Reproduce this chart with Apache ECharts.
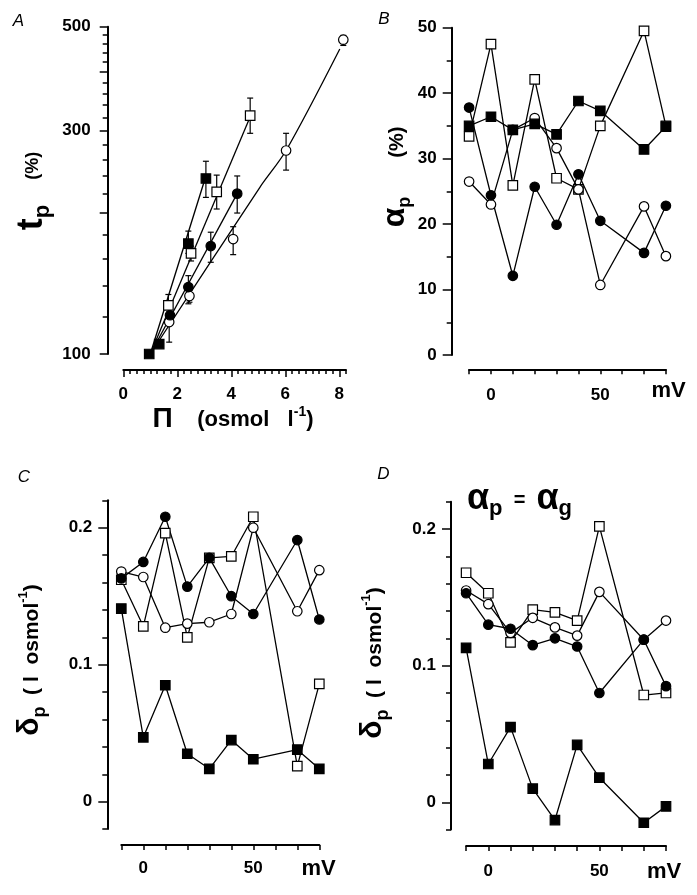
<!DOCTYPE html>
<html><head><meta charset="utf-8">
<script src="https://cdn.jsdelivr.net/npm/echarts@6/dist/echarts.min.js"></script>
<style>html,body{margin:0;padding:0;background:#fff;}#c{width:697px;height:895px;}</style>
</head><body><div id="c"></div>
<script>
// ---------- Panel A (semi-log, tp % vs osmolality) ----------
const aFilledSqX = [0.96, 1.33, 2.41, 3.06];
const aFilledSqY = [100, 105, 172, 237];
const aFilledSqLo = [null, null, 164, 216];
const aFilledSqHi = [null, null, 183, 258];

const aOpenSqX = [1.67, 2.51, 3.46, 4.70];
const aOpenSqY = [127, 164, 222, 323];
const aOpenSqLo = [120, 158, 204, 296];
const aOpenSqHi = [134, 170, 241, 352];

const aFilledCiX = [1.73, 2.41, 3.24, 4.22];
const aFilledCiY = [121, 139, 170, 220];
const aFilledCiLo = [117, 128, 157, 200];
const aFilledCiHi = [125, 147, 182, 240];

const aOpenCiX = [1.70, 2.45, 4.07, 6.03, 8.15];
const aOpenCiY = [117, 133, 176, 272, 469];
const aOpenCiLo = [106, 129, 163, 247, 456];
const aOpenCiHi = [123, 137, 187, 296, 479];

const aFitFilledSqX = [1.0, 3.06];
const aFitFilledSqY = [100, 240];
const aFitOpenSqX = [1.0, 4.72];
const aFitOpenSqY = [100, 323];
const aFitFilledCiX = [1.0, 4.22];
const aFitFilledCiY = [100, 220];
const aFitOpenCiX = [1.0, 5.06, 6.03, 8.02];
const aFitOpenCiY = [100, 227, 272, 448];

const aYTickLabels = [100, 300, 500];
const aYMajorTicks = [100, 200, 300, 400, 500];
const aYMinorTicks = [120, 140, 160, 180, 220, 240, 260, 280, 320, 340, 360, 380, 420, 440, 460, 480];
const aXTickLabels = [0, 2, 4, 6, 8];
const aXMinorTicks = [0, 0.25, 0.5, 0.75, 1, 1.25, 1.5, 1.75, 2, 2.25, 2.5, 2.75, 3, 3.25, 3.5, 3.75, 4, 4.25, 4.5, 4.75, 5, 5.25, 5.5, 5.75, 6, 6.25, 6.5, 6.75, 7, 7.25, 7.5, 7.75, 8, 8.25];

// ---------- Panels B, C, D (vs membrane potential, mV) ----------
const mvX = [-10, 0, 10, 20, 30, 40, 50, 70, 80];
const mvTicks = [-10, 0, 10, 20, 30, 40, 50, 60, 70, 80];
const mvTickLabels = [0, 50];

const bFilledSq = [35.0, 36.4, 34.4, 35.3, 33.7, 38.8, 37.3, 31.4, 34.9];
const bOpenSq   = [33.4, 47.5, 25.9, 42.1, 27.0, 25.3, 35.0, 49.5, 35.0];
const bFilledCi = [37.8, 24.4, 12.1, 25.7, 19.9, 27.6, 20.5, 15.6, 22.8];
const bOpenCi   = [26.5, 23.0, 34.4, 36.2, 31.6, 25.3, 10.7, 22.7, 15.1];
const bYTickLabels = [0, 10, 20, 30, 40, 50];
const bYMinorTicks = [5, 15, 25, 35, 45];

const cFilledSq = [0.141, 0.047, 0.085, 0.035, 0.024, 0.045, 0.031, 0.038, 0.024];
const cOpenSq   = [0.162, 0.128, 0.196, 0.120, 0.178, 0.179, 0.208, 0.026, 0.086];
const cFilledCi = [0.163, 0.175, 0.208, 0.157, 0.178, 0.150, 0.137, 0.191, 0.133];
const cOpenCi   = [0.168, 0.164, 0.127, 0.130, 0.131, 0.137, 0.200, 0.139, 0.169];

const dFilledSq = [0.113, 0.028, 0.055, 0.010, -0.013, 0.042, 0.018, -0.015, -0.003];
const dOpenSq   = [0.168, 0.153, 0.117, 0.141, 0.139, 0.133, 0.202, 0.0785, 0.080];
const dFilledCi = [0.153, 0.130, 0.127, 0.115, 0.120, 0.114, 0.080, 0.119, 0.085];
const dOpenCi   = [0.155, 0.145, 0.124, 0.135, 0.128, 0.122, 0.154, 0.119, 0.133];
const cdYTickLabels = [0, 0.1, 0.2];
const cdYMinorTicks = [-0.02, 0.02, 0.04, 0.06, 0.08, 0.12, 0.14, 0.16, 0.18, 0.22];

// ---------- building ----------
const FONT = '"Liberation Sans", Arial, Helvetica, sans-serif';
const L10 = v => Math.log10(v);
const BLACK = '#000';

const grid = [
  {left: 123.3, top: 26.7, width: 222.7, height: 327.3},
  {left: 469.1, top: 27.7, width: 196.8, height: 327.3},
  {left: 121.3, top: 500.3, width: 198.0, height: 328.8},
  {left: 466.1, top: 501.7, width: 199.9, height: 327.9}
].map(g => Object.assign({containLabel: false, outerBoundsMode: 'none'}, g));

const labelStyle = {color: BLACK, fontSize: 17, fontWeight: 'bold', fontFamily: FONT};
const lineS = {color: BLACK, width: 2};
const tickS = {color: BLACK, width: 1.5};

function axisMain(gi, min, max, offset, labels, majorTicks, majorLen, margin, formatter, position) {
  const ax = {
    gridIndex: gi, type: 'value', min: min, max: max, position: position, offset: offset,
    axisLine: {show: true, onZero: false, lineStyle: lineS},
    axisTick: {show: true, length: majorLen, lineStyle: tickS, customValues: majorTicks},
    axisLabel: Object.assign({show: true, margin: margin, customValues: labels, hideOverlap: false}, labelStyle),
    splitLine: {show: false}
  };
  if (formatter) ax.axisLabel.formatter = formatter;
  return ax;
}
function axisMinor(gi, min, max, offset, ticks, len, position) {
  return {
    gridIndex: gi, type: 'value', min: min, max: max, position: position, offset: offset,
    axisLine: {show: false, onZero: false}, axisTick: {show: true, length: len, lineStyle: tickS, customValues: ticks},
    axisLabel: {show: false}, splitLine: {show: false}
  };
}

const xAxis = [
  axisMain(0, 0, 8.25, 16, aXTickLabels, aXTickLabels, 7, 16, null, 'bottom'),
  axisMinor(0, 0, 8.25, 16, aXMinorTicks, 4, 'bottom'),
  axisMain(1, -10, 80, 14.3, mvTickLabels, mvTicks, 5, 18, null, 'bottom'),
  axisMain(2, -10, 80, 15.9, mvTickLabels, mvTicks, 5, 15, null, 'bottom'),
  axisMain(3, -10, 80, 16.4, mvTickLabels, mvTicks, 5, 17, null, 'bottom')
];
const yAxis = [
  axisMain(0, 2, L10(500), 15.6, aYTickLabels.map(L10), aYMajorTicks.map(L10), 8, 17, v => String(Math.round(Math.pow(10, v))), 'left'),
  axisMinor(0, 2, L10(500), 15.6, aYMinorTicks.map(L10), 5, 'left'),
  axisMain(1, 0, 50, 17.4, bYTickLabels, bYTickLabels, 9, 15, null, 'left'),
  axisMinor(1, 0, 50, 17.4, bYMinorTicks, 5, 'left'),
  axisMain(2, -0.02, 0.22, 14, cdYTickLabels, cdYTickLabels, 9, 15, null, 'left'),
  axisMinor(2, -0.02, 0.22, 14, cdYMinorTicks, 5, 'left'),
  axisMain(3, -0.02, 0.22, 15.1, cdYTickLabels, cdYTickLabels, 9, 15, null, 'left'),
  axisMinor(3, -0.02, 0.22, 15.1, cdYMinorTicks, 5, 'left')
];

const MARK = {
  filledSq: {symbol: 'rect', size: 9.5, fill: BLACK},
  openSq: {symbol: 'rect', size: 9.5, fill: '#fff'},
  filledCi: {symbol: 'circle', size: 9.5, fill: BLACK},
  openCi: {symbol: 'circle', size: 9.5, fill: '#fff'}
};
function markerSeries(xi, yi, data, kind) {
  const m = MARK[kind];
  return {
    type: 'scatter', xAxisIndex: xi, yAxisIndex: yi, data: data, symbol: m.symbol, symbolSize: m.size,
    itemStyle: {color: m.fill, borderColor: BLACK, borderWidth: 1.2, opacity: 1},
    silent: true, z: 4, animation: false
  };
}
function lineSeries(xi, yi, data, z) {
  return {
    type: 'line', xAxisIndex: xi, yAxisIndex: yi, data: data, showSymbol: false, symbol: 'none',
    lineStyle: {color: BLACK, width: 1.3}, silent: true, z: z || 3, animation: false
  };
}
function errSeries(xi, yi, xs, lo, hi) {
  const data = [];
  xs.forEach((x, i) => { if (lo[i] != null) data.push([x, L10(lo[i]), L10(hi[i])]); });
  return {
    type: 'custom', xAxisIndex: xi, yAxisIndex: yi, data: data, silent: true, z: 2, animation: false,
    encode: {x: 0, y: [1, 2]},
    renderItem: function (params, api) {
      const p1 = api.coord([api.value(0), api.value(1)]);
      const p2 = api.coord([api.value(0), api.value(2)]);
      const w = 3;
      const st = {stroke: BLACK, lineWidth: 1.2};
      return {type: 'group', children: [
        {type: 'line', shape: {x1: p1[0], y1: p1[1], x2: p2[0], y2: p2[1]}, style: st},
        {type: 'line', shape: {x1: p1[0] - w, y1: p1[1], x2: p1[0] + w, y2: p1[1]}, style: st},
        {type: 'line', shape: {x1: p2[0] - w, y1: p2[1], x2: p2[0] + w, y2: p2[1]}, style: st}
      ]};
    }
  };
}
const pairsLog = (xs, ys) => xs.map((x, i) => [x, L10(ys[i])]);
const pairsMv = ys => mvX.map((x, i) => [x, ys[i]]);

const series = [];
// Panel A : xAxis 0, yAxis 0
series.push(errSeries(0, 0, aOpenSqX, aOpenSqLo, aOpenSqHi));
series.push(errSeries(0, 0, aOpenCiX, aOpenCiLo, aOpenCiHi));
series.push(errSeries(0, 0, aFilledSqX, aFilledSqLo, aFilledSqHi));
series.push(errSeries(0, 0, aFilledCiX, aFilledCiLo, aFilledCiHi));
series.push(lineSeries(0, 0, pairsLog(aFitFilledSqX, aFitFilledSqY)));
series.push(lineSeries(0, 0, pairsLog(aFitOpenSqX, aFitOpenSqY)));
series.push(lineSeries(0, 0, pairsLog(aFitFilledCiX, aFitFilledCiY)));
const fitOC = lineSeries(0, 0, pairsLog(aFitOpenCiX, aFitOpenCiY)); fitOC.smooth = 0.3;
series.push(fitOC);
series.push(markerSeries(0, 0, pairsLog(aOpenSqX, aOpenSqY), 'openSq'));
series.push(markerSeries(0, 0, pairsLog(aOpenCiX, aOpenCiY), 'openCi'));
series.push(markerSeries(0, 0, pairsLog(aFilledSqX, aFilledSqY), 'filledSq'));
series.push(markerSeries(0, 0, pairsLog(aFilledCiX, aFilledCiY), 'filledCi'));

function mvPanel(xi, yi, sets) {
  sets.forEach(s => series.push(lineSeries(xi, yi, pairsMv(s[0]))));
  sets.forEach(s => series.push(markerSeries(xi, yi, pairsMv(s[0]), s[1])));
}
mvPanel(2, 2, [[bOpenSq, 'openSq'], [bOpenCi, 'openCi'], [bFilledSq, 'filledSq'], [bFilledCi, 'filledCi']]);
mvPanel(3, 4, [[cOpenSq, 'openSq'], [cOpenCi, 'openCi'], [cFilledSq, 'filledSq'], [cFilledCi, 'filledCi']]);
mvPanel(4, 6, [[dOpenSq, 'openSq'], [dOpenCi, 'openCi'], [dFilledSq, 'filledSq'], [dFilledCi, 'filledCi']]);

// ---------- texts ----------
function txt(x, y, text, opts) {
  return {type: 'text', x: x, y: y, rotation: (opts && opts.rot) || 0, silent: true, z: 10,
    style: Object.assign({text: text, fill: BLACK, align: 'center', verticalAlign: 'middle',
      textAlign: 'center', textVerticalAlign: 'middle', fontFamily: FONT}, (opts && opts.style) || {})};
}
const RIGHT = Math.PI / 2;
const tok = (size, padTop, weight) => ({fontSize: size, lineHeight: size, fontWeight: weight || 'bold', fontFamily: FONT, fill: BLACK, verticalAlign: 'top', padding: [padTop, 0, 0, 0]});

const graphic = [
  txt(18.5, 21, 'A', {style: {fontSize: 17, fontStyle: 'italic'}}),
  txt(384, 19, 'B', {style: {fontSize: 17, fontStyle: 'italic'}}),
  txt(24, 477.5, 'C', {style: {fontSize: 17, fontStyle: 'italic'}}),
  txt(383.5, 474.5, 'D', {style: {fontSize: 17, fontStyle: 'italic'}}),
  txt(668.5, 391, 'mV', {style: {fontSize: 22, fontWeight: 'bold'}}),
  txt(318.5, 868.5, 'mV', {style: {fontSize: 22, fontWeight: 'bold'}}),
  txt(664, 871.5, 'mV', {style: {fontSize: 22, fontWeight: 'bold'}}),
  // A y-axis label
  txt(32, 191, '{big|t}{sub|p}{sp|     }{n|(%)}', {rot: RIGHT, style: {rich: {
    big: tok(36, 0), sub: tok(22, 18), sp: tok(18, 10), n: tok(18, 10)}}}),
  // A x-axis label
  txt(233, 419, '{big|\u03A0}{sp|    }{n|(osmol   l}{sup|-1}{n|)}', {style: {rich: {
    big: tok(28, 0), sp: tok(22, 4), n: tok(22, 4), sup: tok(14, 0)}}}),
  // B y-axis label
  txt(395, 177, '{big|\u03B1}{sub|p}{sp|       }{n|(%)}', {rot: RIGHT, style: {rich: {
    big: tok(32, 0), sub: tok(18, 17), sp: tok(20, 8), n: tok(20, 8)}}}),
  // C y-axis label
  txt(30, 660, '{big|\u03B4}{sub|p}{sp|  }{n|( l  osmol}{sup|-1}{n|)}', {rot: RIGHT, style: {rich: {
    big: tok(30, 0), sub: tok(18, 16), sp: tok(21, 7), n: tok(21, 7), sup: tok(13, 2)}}}),
  // D y-axis label
  txt(373, 663, '{big|\u03B4}{sub|p}{sp|  }{n|( l  osmol}{sup|-1}{n|)}', {rot: RIGHT, style: {rich: {
    big: tok(30, 0), sub: tok(18, 16), sp: tok(21, 7), n: tok(21, 7), sup: tok(13, 2)}}}),
  // D title
  txt(519.5, 499, '{big|\u03B1}{sub|p}{n|  =  }{big|\u03B1}{sub|g}', {style: {rich: {
    big: tok(36, 0), sub: tok(22, 17), n: tok(20, 9)}}})
];

const chart = echarts.init(document.getElementById('c'), null, {renderer: 'canvas', width: 697, height: 895});
chart.setOption({
  animation: false, backgroundColor: '#fff',
  grid: grid, xAxis: xAxis, yAxis: yAxis, series: series, graphic: graphic
});
</script></body></html>
